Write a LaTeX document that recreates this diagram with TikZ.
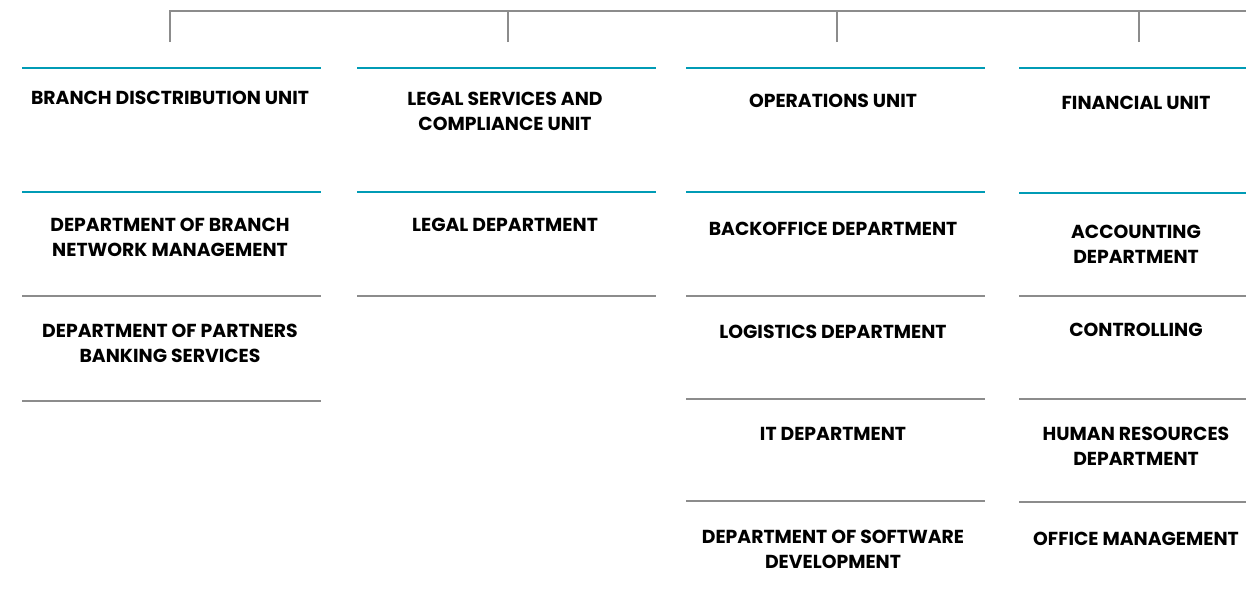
\documentclass[tikz,border=0pt]{standalone}
\usepackage{fontspec}
\setmainfont{Poppins}
\usepackage{tikz}
\usetikzlibrary{calc}
\definecolor{teal_rule}{RGB}{0,155,181}
\definecolor{gray_rule}{RGB}{140,140,140}

\begin{document}
\begin{tikzpicture}[x=0.02cm, y=-0.02cm,
        node_style/.style={align=center, font=\bfseries\fontsize{10.7}{14.2}\selectfont, inner sep=0pt},
        unit_rule_style/.style={draw=teal_rule, line width=1.1pt},
        dept_rule_style/.style={draw=gray_rule, line width=1.1pt},
        link_style/.style={draw=gray_rule, line width=1.1pt,-}]
        \useasboundingbox (0,0) rectangle (1246,599);

        % top bracket
        \coordinate (b0) at (170,11);
        \coordinate (b1) at (1246,11);
        \coordinate (d1) at (170,42);
        \coordinate (d2) at (508,42);
        \coordinate (d3) at (837,42);
        \coordinate (d4) at (1139,42);
        \draw [link_style] (d1) -- (b0) -- (b1);
        \draw [link_style] (d2) -- (d2 |- b0);
        \draw [link_style] (d3) -- (d3 |- b0);
        \draw [link_style] (d4) -- (d4 |- b0);

        % rules
        \draw [unit_rule_style] (22,68) -- (321,68);
        \draw [unit_rule_style] (357,68) -- (656,68);
        \draw [unit_rule_style] (686,68) -- (985,68);
        \draw [unit_rule_style] (1019,68) -- (1246,68);
        \draw [unit_rule_style] (22,192) -- (321,192);
        \draw [unit_rule_style] (357,192) -- (656,192);
        \draw [unit_rule_style] (686,192) -- (985,192);
        \draw [unit_rule_style] (1019,193) -- (1246,193);
        \draw [dept_rule_style] (22,296) -- (321,296);
        \draw [dept_rule_style] (357,296) -- (656,296);
        \draw [dept_rule_style] (686,296) -- (985,296);
        \draw [dept_rule_style] (1019,296) -- (1246,296);
        \draw [dept_rule_style] (22,401) -- (321,401);
        \draw [dept_rule_style] (686,399) -- (985,399);
        \draw [dept_rule_style] (1019,399) -- (1246,399);
        \draw [dept_rule_style] (686,501) -- (985,501);
        \draw [dept_rule_style] (1019,502) -- (1246,502);

        % units
        \node [node_style](u1) at (170,98) {BRANCH DISCTRIBUTION UNIT};
        \node [node_style](u2) at (505,111.5) {LEGAL SERVICES AND\\COMPLIANCE UNIT};
        \node [node_style](u3) at (833,101) {OPERATIONS UNIT};
        \node [node_style](u4) at (1136,103) {FINANCIAL UNIT};

        % departments
        \node [node_style](n1) at (170,237.5) {DEPARTMENT OF BRANCH\\NETWORK MANAGEMENT};
        \node [node_style](n2) at (170,343) {DEPARTMENT OF PARTNERS\\BANKING SERVICES};
        \node [node_style](n3) at (505,225) {LEGAL DEPARTMENT};
        \node [node_style](n4) at (833,229) {BACKOFFICE DEPARTMENT};
        \node [node_style](n5) at (833,332) {LOGISTICS DEPARTMENT};
        \node [node_style](n6) at (833,434) {IT DEPARTMENT};
        \node [node_style](n7) at (833,549.5) {DEPARTMENT OF SOFTWARE\\DEVELOPMENT};
        \node [node_style](n8) at (1136,244) {ACCOUNTING\\DEPARTMENT};
        \node [node_style](n9) at (1136,330) {CONTROLLING};
        \node [node_style](n10) at (1136,446) {HUMAN RESOURCES\\DEPARTMENT};
        \node [node_style](n11) at (1136,539) {OFFICE MANAGEMENT};
\end{tikzpicture}
\end{document}
